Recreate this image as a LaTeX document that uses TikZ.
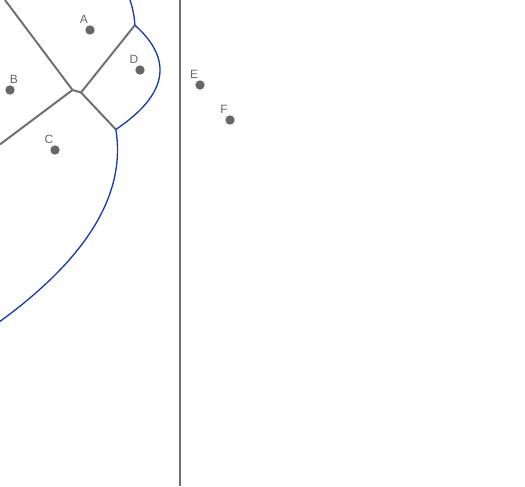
\documentclass[tikz,border=0pt]{standalone}
\usepackage{fontspec}
\setmainfont{Liberation Sans}
\usetikzlibrary{calc}
\definecolor{sitegray}{HTML}{666666}
\definecolor{edgegray}{HTML}{707070}
\definecolor{beachblue}{HTML}{1A3CAA}

\begin{document}
\begin{tikzpicture}[x=0.75pt,y=-0.75pt,
    site/.style={circle,fill=sitegray,inner sep=0pt,minimum size=7pt},
    lbl/.style={font=\fontsize{9}{10}\selectfont,text=sitegray,inner sep=0pt},
    vedge/.style={edgegray,line width=1.5pt},
    beach/.style={beachblue,line width=1pt}]
        \useasboundingbox (0,0) rectangle (525,486);
        % sites
        \node[site] (A) at (90,30) {};
        \node[site] (B) at (10,90) {};
        \node[site] (C) at (55,150) {};
        \node[site] (D) at (140,70) {};
        \node[site] (E) at (200,85) {};
        \node[site] (F) at (230,120) {};
        \foreach \s in {A,C,D,E,F}
          \node[lbl] (l\s) at ($(\s)+(-6,-11)$) {\s};
        \node[lbl] (lB) at ($(B)+(4,-11)$) {B};
        % voronoi vertices and breakpoints
        \coordinate (vABC) at (72.5,90);
        \coordinate (vACD) at (81.02,92.48);
        \coordinate (bAD) at (134.88,25.15);
        \coordinate (bCD) at (115.81,129.46);
        \coordinate (eAB) at (5,0);
        \coordinate (eBC) at (0,144.4);
        \draw[vedge] (eAB) -- (vABC) -- (eBC);
        \draw[vedge] (vABC) -- (vACD);
        \draw[vedge] (bAD) -- (vACD) -- (bCD);
        % sweep line
        \coordinate (s0) at (180,0);
        \coordinate (s1) at (180,486);
        \draw[edgegray, line width=1.5pt] (s0) -- (s1);
        % beach line
        \draw[beach] plot[domain=0:25.15, samples=20, variable=\t] ({135-(\t-30)*(\t-30)/180},\t);
        \draw[beach] plot[domain=25.15:129.46, samples=60, variable=\t] ({160-(\t-70)*(\t-70)/80},\t);
        \draw[beach] plot[domain=129.46:321.4, samples=80, variable=\t] ({117.5-((\t-150)/50)*((\t-150)/5)},\t);
      \end{tikzpicture}
\end{document}
